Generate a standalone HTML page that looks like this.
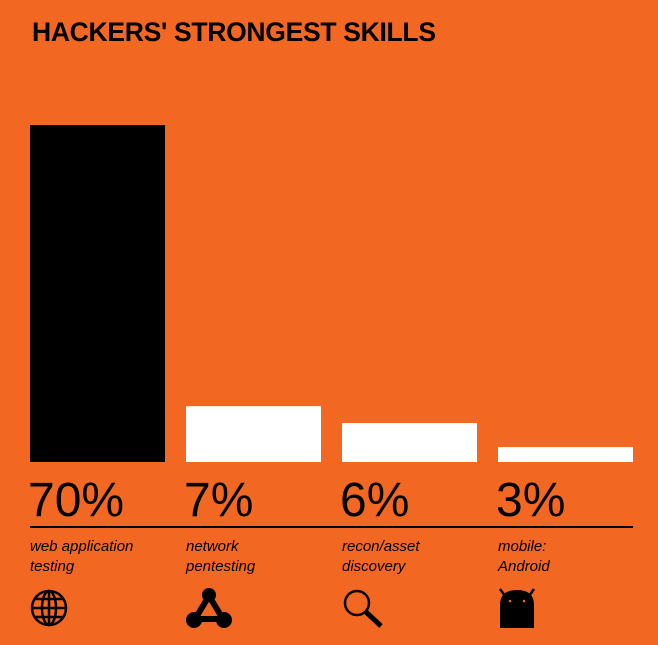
<!DOCTYPE html>
<html><head><meta charset="utf-8"><style>
html,body{margin:0;padding:0;}
body{width:658px;height:645px;background:#f26722;position:relative;overflow:hidden;font-family:"Liberation Sans",sans-serif;}
#title{position:absolute;left:32px;top:17px;font-size:26.5px;font-weight:bold;color:#000;letter-spacing:-0.3px;}
svg{position:absolute;left:0;top:0;}
</style></head><body>
<div id="title">HACKERS' STRONGEST SKILLS</div>
<svg id="chart" width="658" height="645"></svg>
<script>
const categories=[["web application","testing"],["network","pentesting"],["recon/asset","discovery"],["mobile:","Android"]];
const barValues=[70,11.6,8.1,3.1];
const valueLabels=["70%","7%","6%","3%"];
const barColors=["#000","#fff","#fff","#fff"];
const NS="http://www.w3.org/2000/svg";
const svg=document.getElementById('chart');
const baseY=462,topY=125,maxV=70;
function yScale(v){return baseY-(baseY-topY)*v/maxV;}
function xScale(i){return 30+i*156;}
const bw=135;
function mk(t,a){const e=document.createElementNS(NS,t);for(const k in a)e.setAttribute(k,a[k]);svg.appendChild(e);return e;}
barValues.forEach((v,i)=>{
 const r=mk('rect',{x:xScale(i),y:yScale(v),width:bw,height:baseY-yScale(v),fill:barColors[i]});
 
 
 const t=mk('text',{x:xScale(i)-2,y:516,'font-size':48,'font-family':'Liberation Sans, sans-serif',fill:'#000'});
 t.textContent=valueLabels[i];
 
 
 categories[i].forEach((ln,j)=>{
  const c=mk('text',{x:xScale(i),y:551+j*20,'font-size':15,'font-style':'italic','font-family':'Liberation Sans, sans-serif',fill:'#000'});
  c.textContent=ln;
  
  
 });
});
const ln=mk('line',{x1:30,y1:527,x2:633,y2:527,stroke:'#000','stroke-width':2});


</script>
<svg width="658" height="645">
 <g fill="none" stroke="#000" stroke-width="2.5">
  <circle cx="49" cy="608" r="17"/>
  <ellipse cx="49" cy="608" rx="7" ry="17"/>
  <line x1="49" y1="591" x2="49" y2="625"/>
  <line x1="32" y1="608" x2="66" y2="608"/>
  <line x1="35" y1="599" x2="63" y2="599"/>
  <line x1="35" y1="617" x2="63" y2="617"/>
 </g>
 <g>
  <path d="M209 596 L195 619 L223 619 Z" fill="none" stroke="#000" stroke-width="6"/>
  <circle cx="209" cy="595" r="7" fill="#000"/>
  <circle cx="194" cy="620" r="8" fill="#000"/>
  <circle cx="224" cy="620" r="8" fill="#000"/>
 </g>
 <g>
  <circle cx="357" cy="603" r="12" fill="none" stroke="#000" stroke-width="2.5"/>
  <line x1="366" y1="612" x2="381" y2="626" stroke="#000" stroke-width="5"/>
 </g>
 <g>
  <path d="M500 605 Q500 590 517 590 Q534 590 534 605 L534 628 L500 628 Z" fill="#000"/>
  <line x1="500" y1="589" x2="505" y2="596" stroke="#000" stroke-width="2.5"/>
  <line x1="534" y1="589" x2="529" y2="596" stroke="#000" stroke-width="2.5"/>
  <circle cx="510" cy="601" r="1.3" fill="#f26722"/>
  <circle cx="524" cy="601" r="1.3" fill="#f26722"/>
 </g>
</svg>
</body></html>
